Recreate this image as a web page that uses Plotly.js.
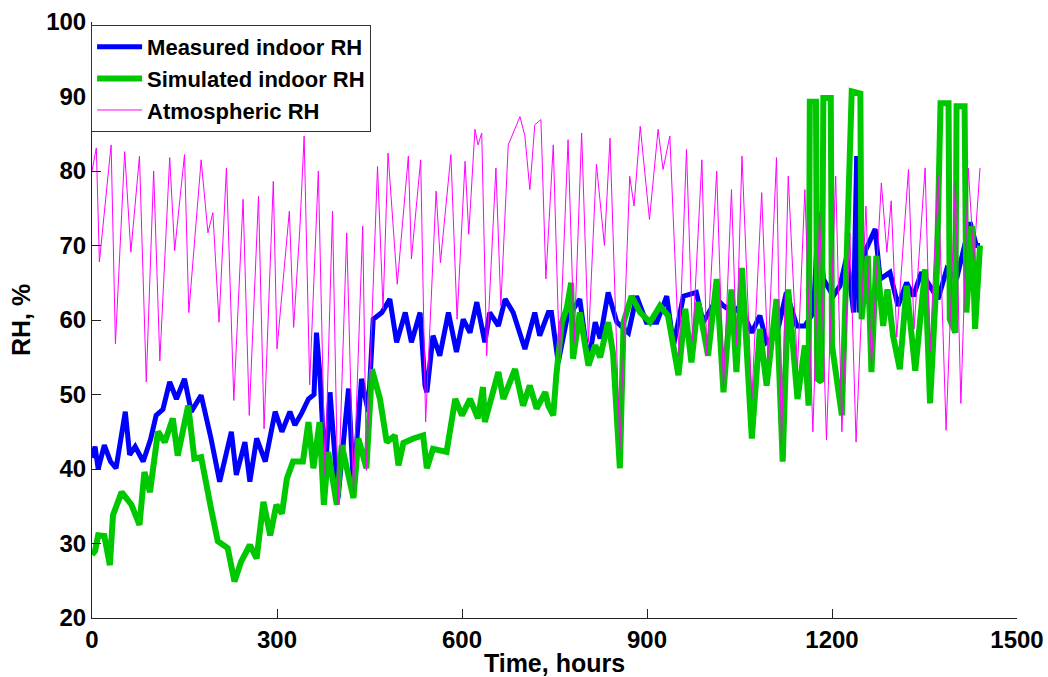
<!DOCTYPE html>
<html>
<head>
<meta charset="utf-8">
<script src="https://cdn.plot.ly/plotly-3.0.1.min.js"></script>
<style>html,body{margin:0;padding:0;background:#fff;}#chart{width:1048px;height:677px;}</style>
</head>
<body>
<div id="chart"></div>
<script>
// [hour, RH %]
const measuredRH = [[0,41.5],[5,43],[10,40],[20,43.2],[30,41],[39,40.1],[54,47.7],[61,41.9],[70,43],[83,41.0],[95,44],[104,47.2],[115,48],[126,51.7],[137,49.4],[150,52.1],[161,47.7],[177,49.9],[193,44.1],[207,38.3],[226,45.0],[234,39.2],[248,43.6],[256,38.3],[267,44.1],[281,41.0],[297,47.7],[308,45.0],[321,47.7],[329,45.9],[340,47.5],[351,49.4],[360,50],[364,58.3],[370,52.1],[378,38.7],[386,50.3],[399,36.1],[416,50.8],[424,37.8],[437,52.1],[448,47.7],[456,60.1],[470,61.0],[483,62.8],[494,57.0],[508,61.0],[518,57.0],[532,61.0],[540,51.2],[543,50.3],[553,57.9],[564,55.2],[578,61.0],[591,55.7],[602,60.1],[613,58.3],[624,62.4],[637,57.0],[645,61.0],[659,59.2],[670,62.8],[683,61.0],[702,56.1],[718,61.0],[726,57.9],[740,61.0],[745,61.0],[756,54.3],[770,60.1],[791,62.8],[805,54.3],[816,59.7],[824,57.5],[837,63.7],[851,59.7],[870,58.3],[883,63.2],[899,59.7],[916,59.7],[932,63.2],[943,56.6],[959,63.2],[980,63.7],[991,59.7],[1013,62.8],[1024,61.9],[1040,61.0],[1051,61.9],[1070,58.3],[1083,60.6],[1094,57.0],[1110,57.9],[1126,63.7],[1143,59.2],[1156,59.2],[1170,61.0],[1178,74.4],[1186,65.5],[1202,63.2],[1213,64.6],[1224,68.6],[1235,61.0],[1240,82.0],[1244,61],[1253,69.1],[1270,72.2],[1278,65.5],[1294,66.4],[1307,61.9],[1321,65.0],[1332,63.2],[1345,66.4],[1359,64.6],[1372,62.8],[1386,66.8],[1402,65.5],[1424,73.1],[1434,70.0],[1440,70]];

const simulatedRH = [[0,28.5],[5,29],[10,31.1],[20,31],[29,27.1],[34,33.8],[48,36.9],[64,35.2],[77,32.5],[85,39.6],[94,36.9],[107,45.0],[118,43.6],[131,46.8],[139,41.8],[156,48.5],[166,41.4],[177,41.6],[193,34.7],[204,30.3],[220,29.4],[231,24.9],[242,27.6],[250,29],[256,29.8],[267,28.0],[278,35.6],[289,31.1],[299,35.2],[308,34],[316,38.7],[326,41.0],[342,41],[351,46.3],[359,40.1],[369,46.3],[376,35.2],[383,42.3],[397,35.2],[405,43.2],[424,36.1],[432,44.1],[445,40.1],[454,53.4],[467,49.4],[478,43.6],[491,44.5],[497,40.5],[505,43.5],[521,44.1],[537,44.5],[543,40.1],[553,42.7],[575,42.3],[589,49.4],[600,47.2],[613,49.4],[626,46.8],[634,51],[637,46.3],[659,53.0],[667,49.4],[686,53.4],[699,48.5],[710,51.2],[721,48.1],[735,50.3],[740,48.5],[748,47.2],[753,52.6],[762,59.7],[770,61.6],[777,65.0],[780,54.8],[791,61.0],[805,53.9],[816,56.6],[824,55],[837,59.7],[845,55.5],[856,40.1],[862,59.7],[875,63.2],[889,61.0],[905,59.7],[921,61.9],[934,60.6],[951,52.6],[962,61.5],[972,54.3],[983,62.4],[999,55.2],[1013,65.5],[1024,50.3],[1037,64.1],[1045,53.0],[1054,67.0],[1070,44.1],[1083,58.8],[1094,51.2],[1110,62.8],[1120,41.0],[1129,64.1],[1144,49.4],[1156,56.6],[1162,48.5],[1164,89.3],[1174,89.3],[1176,52.1],[1183,51.7],[1186,89.8],[1198,89.8],[1200,56.6],[1216,47.2],[1224,70.8],[1232,90.7],[1246,90.4],[1248,60.1],[1258,68.6],[1264,53],[1272,68.6],[1283,59.2],[1290,64.1],[1299,57.9],[1310,53.4],[1321,64.6],[1335,53.2],[1351,66.8],[1359,48.8],[1370,66.4],[1376,89.1],[1389,89.1],[1391,60.1],[1400,58.3],[1402,88.7],[1415,88.7],[1418,61],[1427,72.6],[1432,58.8],[1440,70]];

const atmosphericRH = [[0,80],[7,83.1],[12,67.8],[31,83.5],[38,56.8],[53,82.6],[63,69.1],[77,82.0],[88,51.7],[100,80.0],[110,54.5],[126,81.8],[134,69.3],[150,82.2],[157,61.0],[177,81.5],[188,71.7],[196,74.4],[206,59.7],[218,80.4],[230,49.2],[245,76.2],[255,47.2],[270,76.6],[279,45.4],[294,78.6],[300,56.1],[320,74.6],[327,59.0],[337,72.2],[344,84.7],[353,51.3],[367,80.0],[378,39.2],[390,74.6],[399,35.2],[413,71.7],[424,36.9],[439,72.6],[445,39.8],[463,80.6],[472,61.5],[480,82.4],[495,64.8],[513,82.0],[518,68.2],[533,81.5],[541,46.3],[558,77.3],[565,67.7],[582,82.2],[592,60.1],[605,81.3],[611,71.5],[621,85.6],[626,83.5],[632,85.1],[640,55.2],[655,80.4],[663,61.9],[675,83.5],[694,87.3],[702,84.7],[710,77.5],[718,86.2],[728,86.9],[736,65.5],[748,83.5],[758,54.8],[772,84.2],[782,57.0],[794,85.1],[805,57.0],[818,80.9],[831,70.0],[840,84.4],[856,42.7],[872,79.3],[879,75.3],[889,86.0],[904,73.5],[918,85.6],[926,80.2],[937,84.7],[952,55.2],[964,82.9],[974,57.2],[989,81.5],[997,55.2],[1013,80.0],[1024,50.8],[1037,77.5],[1045,56.6],[1054,82.0],[1070,49.4],[1086,77.1],[1096,54.8],[1110,81.8],[1118,43.2],[1129,79.3],[1144,53.4],[1156,77.5],[1169,45.0],[1180,74.4],[1191,43.9],[1206,79.3],[1216,45.0],[1229,71.7],[1239,43.6],[1255,75.3],[1264,53.9],[1280,78.4],[1289,69.1],[1296,76.0],[1305,57.7],[1324,80.2],[1333,58.8],[1351,80.4],[1359,55.7],[1372,79.5],[1385,45.2],[1400,78.4],[1409,48.8],[1421,80.4],[1430,68.2],[1440,80.4]];

const xTicks = [0, 300, 600, 900, 1200, 1500];
const yTicks = [20, 30, 40, 50, 60, 70, 80, 90, 100];

const FONT = 'Liberation Sans, Arial, sans-serif';
function col(arr, i) { return arr.map(p => p[i]); }

const traces = [
  {x: col(measuredRH,0), y: col(measuredRH,1), type:'scatter', mode:'lines', name:'Measured indoor RH',
   line:{color:'#0000ff', width:5}},
  {x: col(simulatedRH,0), y: col(simulatedRH,1), type:'scatter', mode:'lines', name:'Simulated indoor RH',
   line:{color:'#00c800', width:6}},
  {x: col(atmosphericRH,0), y: col(atmosphericRH,1), type:'scatter', mode:'lines', name:'Atmospheric RH',
   line:{color:'#ff00ff', width:1}}
];

const layout = {
  width:1048, height:677,
  margin:{l:92, r:31, t:22, b:59},
  paper_bgcolor:'#fff', plot_bgcolor:'#fff',
  showlegend:true,
  legend:{x:-0.001, y:0.995, xanchor:'left', yanchor:'top', bgcolor:'#fff',
          bordercolor:'#333', borderwidth:1, itemwidth:45,
          font:{family:FONT, size:22, color:'#000', weight:'bold'}},
  xaxis:{range:[0,1500], tickvals:xTicks, ticktext:xTicks.map(String), ticks:'inside', ticklen:9,
         tickcolor:'#222', showline:true, linecolor:'#222', linewidth:1, showgrid:false, zeroline:false,
         tickfont:{family:FONT, size:24, color:'#000', weight:'bold'},
         title:{text:'Time, hours', standoff:2, font:{family:FONT, size:25, color:'#000', weight:'bold'}}},
  yaxis:{range:[20,100], tickvals:yTicks, ticktext:yTicks.map(String), ticks:'inside', ticklen:9,
         tickcolor:'#222', showline:true, linecolor:'#222', linewidth:1, showgrid:false, zeroline:false,
         tickfont:{family:FONT, size:24, color:'#000', weight:'bold'},
         title:{text:'RH, %', standoff:8, font:{family:FONT, size:25, color:'#000', weight:'bold'}}}
};

Plotly.newPlot('chart', traces, layout, {displayModeBar:false, staticPlot:true});
</script>
</body>
</html>
